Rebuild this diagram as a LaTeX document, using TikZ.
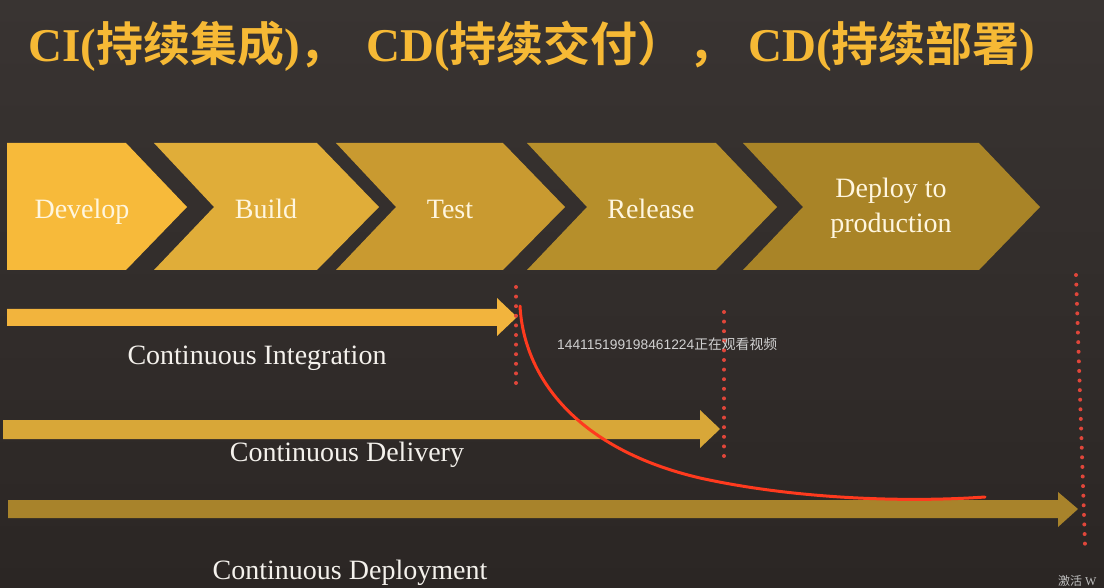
\documentclass[tikz,border=0pt]{standalone}
\usepackage{fontspec}
\setmainfont{Liberation Serif}
\newfontfamily\cjk{Noto Sans CJK SC}[BoldFont=* Bold]
\newfontfamily\wmsans{Liberation Sans}
\newcommand{\zh}[1]{{\cjk\bfseries #1}}
\definecolor{bgtop}{HTML}{393432}
\definecolor{bgbot}{HTML}{2B2624}
\definecolor{titlegold}{HTML}{F6B935}
\definecolor{cdev}{HTML}{F7BA3A}
\definecolor{cbuild}{HTML}{E0AD39}
\definecolor{ctest}{HTML}{C99A30}
\definecolor{crel}{HTML}{B68F2B}
\definecolor{cdep}{HTML}{A98427}
\definecolor{aci}{HTML}{F2B43D}
\definecolor{acd}{HTML}{D8A738}
\definecolor{acdp}{HTML}{A8832B}
\definecolor{dotred}{HTML}{E0463A}
\definecolor{curvered}{HTML}{FF3A1E}
\definecolor{chevtext}{HTML}{FFF6DF}
\definecolor{lbltext}{HTML}{F4F1EC}
\begin{document}
\begin{tikzpicture}[x=1pt,y=-1pt,
  titleseg/.style={anchor=base west,inner sep=0pt,text=titlegold,font=\fontsize{47}{50}\selectfont\bfseries},
  chevtxt/.style={anchor=base,inner sep=0pt,text=chevtext,font=\fontsize{28}{34}\selectfont},
  lbl/.style={anchor=base,inner sep=0pt,text=lbltext,font=\fontsize{28}{34}\selectfont},
  dotline/.style={draw=dotred,line width=4pt,line cap=round,dash pattern=on 0pt off 9.6pt},
  redcurve/.style={draw=curvered,line width=3pt,line cap=round},
  wm/.style={inner sep=0pt,text=black!18,font=\wmsans\fontsize{13.8}{15}\selectfont}
]
\useasboundingbox (0,0) rectangle (1104,588);
\shade[top color=bgtop,bottom color=bgbot] (0,0) rectangle (1104,588);

% title
\node[titleseg] (t1) at (28,62) {CI(\zh{持续集成})\zh{，}};
\node[titleseg] (t2) at (366,62) {CD(\zh{持续交付）}};
\node[titleseg] (t3) at (688,62) {\zh{，}};
\node[titleseg] (t4) at (748,62) {CD(\zh{持续部署})};

% chevrons
\fill[cdev] (7,143) -- (126,143) -- (187,207) -- (126,270) -- (7,270) -- cycle;
\fill[cbuild] (154,143) -- (317,143) -- (379,207) -- (317,270) -- (154,270) -- (214,207) -- cycle;
\fill[ctest] (336,143) -- (503,143) -- (565,207) -- (503,270) -- (336,270) -- (396,207) -- cycle;
\fill[crel] (527,143) -- (716,143) -- (777,207) -- (716,270) -- (527,270) -- (587,207) -- cycle;
\fill[cdep] (743,143) -- (979,143) -- (1040,207) -- (979,270) -- (743,270) -- (803,207) -- cycle;

\node[chevtxt] (develop) at (82,219) {Develop};
\node[chevtxt] (build) at (266,219) {Build};
\node[chevtxt] (test) at (450,219) {Test};
\node[chevtxt] (release) at (651,219) {Release};
\node[chevtxt] (deploy1) at (891,198) {Deploy to};
\node[chevtxt] (deploy2) at (891,233) {production};

% arrows
\fill[aci] (7,309) -- (497,309) -- (497,298) -- (517,317) -- (497,336) -- (497,326) -- (7,326) -- cycle;
\fill[acd] (3,420) -- (700,420) -- (700,410) -- (720,429) -- (700,448) -- (700,439) -- (3,439) -- cycle;
\fill[acdp] (8,500) -- (1058,500) -- (1058,492) -- (1078,509) -- (1058,527) -- (1058,518) -- (8,518) -- cycle;

\node[lbl] (ci) at (257,364) {Continuous Integration};
\node[lbl] (cd) at (347,461) {Continuous Delivery};
\node[lbl] (cdp) at (350,579) {Continuous Deployment};

% dotted markers
\coordinate (d1a) at (516,287); \coordinate (d1b) at (516,386);
\coordinate (d2a) at (724,312); \coordinate (d2b) at (724,456);
\coordinate (d3a) at (1076,275); \coordinate (d3b) at (1085,545);
\draw[dotline] (d1a) -- (d1b);
\draw[dotline] (d2a) -- (d2b);
\draw[dotline] (d3a) -- (d3b);

% hand-drawn red curve
\coordinate (c0) at (520,306);
\coordinate (c1) at (700,478);
\coordinate (c2) at (985,497);
\draw[redcurve] (c0) .. controls (524,380) and (580,450) .. (c1)
  .. controls (790,498) and (900,503) .. (c2);

% watermarks
\node[wm,anchor=west] (wm1) at (557,344) {144115199198461224{\cjk 正在观看视频}};
\node[wm,anchor=south west,text=black!25,font=\fontsize{12}{14}\selectfont] (wm2) at (1058,587) {{\cjk 激活} W};
\end{tikzpicture}
\end{document}
